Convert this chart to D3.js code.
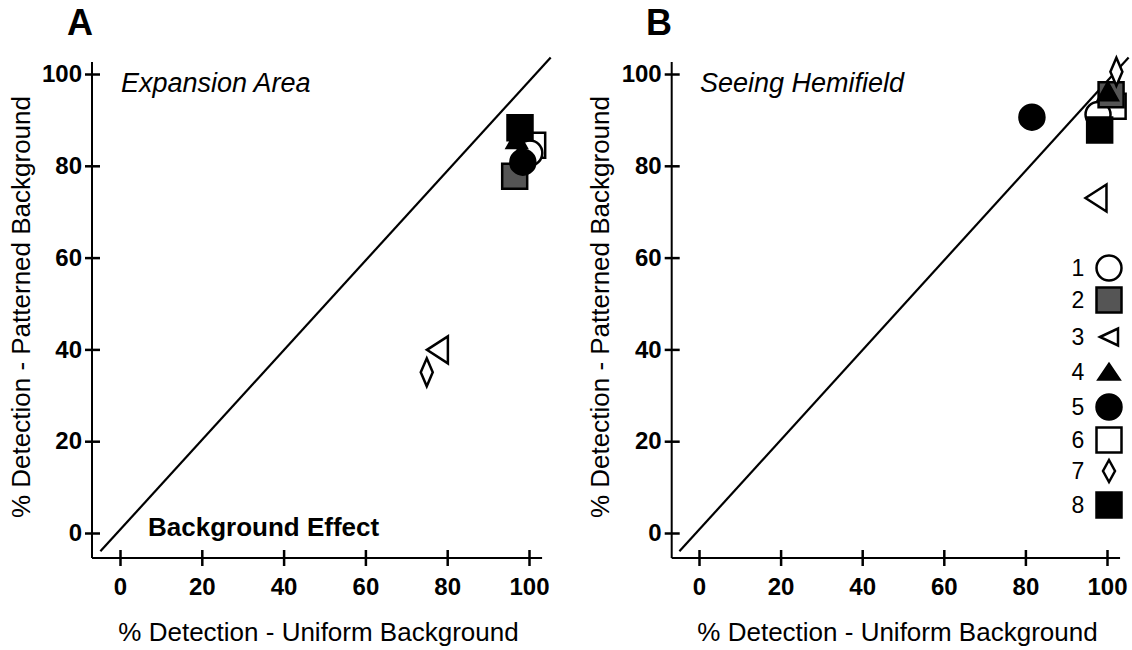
<!DOCTYPE html>
<html><head><meta charset="utf-8">
<script src="https://cdn.jsdelivr.net/npm/d3@7"></script>
<style>body{margin:0;background:#fff}svg{display:block}text{font-family:"Liberation Sans",Arial,sans-serif}</style>
</head><body><svg id="c" width="1132" height="650"></svg>
<script>
// ---- data ----
const subjects = ["1","2","3","4","5","6","7","8"];
const expansionX = [100.2, 96.5, 77.6, 97.0, 98.5, 100.9, 75.0, 97.8];
const expansionY = [82.8, 77.7, 39.9, 85.6, 80.8, 84.5, 35.0, 88.3];
const seeingX = [97.8, 101.0, 97.3, 100.2, 81.6, 101.5, 102.3, 98.2];
const seeingY = [91.2, 95.5, 73.0, 96.0, 90.6, 93.0, 100.5, 87.8];
const tickValues = [0, 20, 40, 60, 80, 100];
const diagonalX = [-4.8, 105.3];
const diagonalY = [-4.0, 103.6];
const panelLetters = ["A", "B"];
const panelTitles = ["Expansion Area", "Seeing Hemifield"];
const xTitle = "% Detection - Uniform Background";
const yTitle = "% Detection - Patterned Background";
const noteText = "Background Effect";

// ---- styles (not data) ----
const markerStyle = {
  "1": {shape: "circle", fill: "#fff"},
  "2": {shape: "square", fill: "#555"},
  "3": {shape: "triLeft", fill: "#fff"},
  "4": {shape: "triUp", fill: "#000"},
  "5": {shape: "circle", fill: "#000"},
  "6": {shape: "square", fill: "#fff"},
  "7": {shape: "diamond", fill: "#fff"},
  "8": {shape: "square", fill: "#000"}
};
const drawOrder = [5, 0, 1, 2, 6, 3, 7, 4];

function shapePath(shape, big) {
  switch (shape) {
    case "circle": return d3.symbol(d3.symbolCircle, Math.PI * 12.5 * 12.5)();
    case "square": return "M-12.5,-12.5H12.5V12.5H-12.5Z";
    case "triLeft": return big ? "M-10.5,0L10.5,-13.5L10.5,13.5Z" : "M-9,0L9,-8.5L9,8.5Z";
    case "triUp": return big ? "M0,-10L10,8H-10Z" : "M0,-8L10.5,7.5H-10.5Z";
    case "diamond": return big ? "M0,-14L6,0L0,14L-6,0Z" : "M0,-11L6,0L0,11L-6,0Z";
  }
}

const svg = d3.select("#c");
const FONT = "Liberation Sans, Arial, sans-serif";

const panels = [
  {letter: panelLetters[0], title: panelTitles[0], xs: expansionX, ys: expansionY,
   xRange: [120, 529], yAxisX: 92, letterX: 80, ylabX: 21, note: true, legend: false},
  {letter: panelLetters[1], title: panelTitles[1], xs: seeingX, ys: seeingY,
   xRange: [699, 1107], yAxisX: 671.7, letterX: 659, ylabX: 600, note: false, legend: true}
];

panels.forEach(p => {
  const x = d3.scaleLinear().domain([0, 100]).range(p.xRange);
  const y = d3.scaleLinear().domain([0, 100]).range([533, 74]);
  const g = svg.append("g");
  const xMinV = x.invert(p.yAxisX);
  const yMinV = y.invert(558);
  const xMaxV = 103.2, yMaxV = 102.6;

  g.append("line").attr("x1", x(xMinV)).attr("x2", x(xMaxV)).attr("y1", y(yMinV)).attr("y2", y(yMinV))
    .attr("stroke", "#000").attr("stroke-width", 2);
  g.append("line").attr("x1", x(xMinV)).attr("x2", x(xMinV)).attr("y1", y(yMinV)).attr("y2", y(yMaxV))
    .attr("stroke", "#000").attr("stroke-width", 2);

  const xa = g.append("g").attr("transform", `translate(0,${y(yMinV)})`)
    .call(d3.axisBottom(x).tickValues(tickValues).tickSize(8).tickPadding(0));
  xa.select(".domain").remove();
  xa.selectAll(".tick line").attr("y1", -8).attr("y2", 8).attr("stroke-width", 2.5);
  xa.selectAll(".tick text").attr("y", 28).attr("dy", "0.36em").attr("font-size", 24).attr("font-weight", "bold")
    .attr("font-family", FONT).attr("fill", "#000");

  const ya = g.append("g").attr("transform", `translate(${x(xMinV)},0)`)
    .call(d3.axisLeft(y).tickValues(tickValues).tickSize(8).tickPadding(0));
  ya.select(".domain").remove();
  ya.selectAll(".tick line").attr("x1", -7).attr("x2", 8).attr("stroke-width", 2.5);
  ya.selectAll(".tick text").attr("x", -10).attr("font-size", 24).attr("font-weight", "bold")
    .attr("font-family", FONT).attr("fill", "#000");

  g.append("line").attr("x1", x(diagonalX[0])).attr("y1", y(diagonalY[0]))
    .attr("x2", x(diagonalX[1])).attr("y2", y(diagonalY[1]))
    .attr("stroke", "#000").attr("stroke-width", 2.2);

  g.append("text").attr("x", p.letterX).attr("y", 35).attr("text-anchor", "middle")
    .attr("font-size", 36).attr("font-weight", "bold").text(p.letter);
  g.append("text").attr("x", x(0) + 1).attr("y", 92).attr("font-size", 27)
    .attr("font-style", "italic").text(p.title);
  g.append("text").attr("x", p.xRange[0] + 198.5).attr("y", 641)
    .attr("text-anchor", "middle").attr("font-size", 26).text(xTitle);
  g.append("text").attr("transform", `translate(${p.ylabX},307) rotate(-90)`)
    .attr("text-anchor", "middle").attr("dy", "0.35em").attr("font-size", 26).text(yTitle);
  if (p.note) {
    g.append("text").attr("x", 148).attr("y", 536).attr("font-size", 26)
      .attr("font-weight", "bold").text(noteText);
  }

  drawOrder.forEach(i => {
    const st = markerStyle[subjects[i]];
    g.append("path").attr("d", shapePath(st.shape, true))
      .attr("transform", `translate(${x(p.xs[i])},${y(p.ys[i])})`)
      .attr("fill", st.fill).attr("stroke", "#000").attr("stroke-width", 2.5)
      .attr("stroke-linejoin", "miter");
  });

  if (p.legend) {
    const rowsY = [268, 300, 337, 372, 407, 440, 471, 505];
    const lg = g.append("g");
    subjects.forEach((s, i) => {
      const st = markerStyle[s];
      lg.append("text").attr("x", 1078).attr("y", rowsY[i]).attr("dy", "0.36em")
        .attr("text-anchor", "middle").attr("font-size", 23).text(s);
      lg.append("path").attr("d", shapePath(st.shape, false))
        .attr("transform", `translate(1109,${rowsY[i]})`)
        .attr("fill", st.fill).attr("stroke", "#000").attr("stroke-width", 2.5);
    });
  }
});
</script></body></html>
